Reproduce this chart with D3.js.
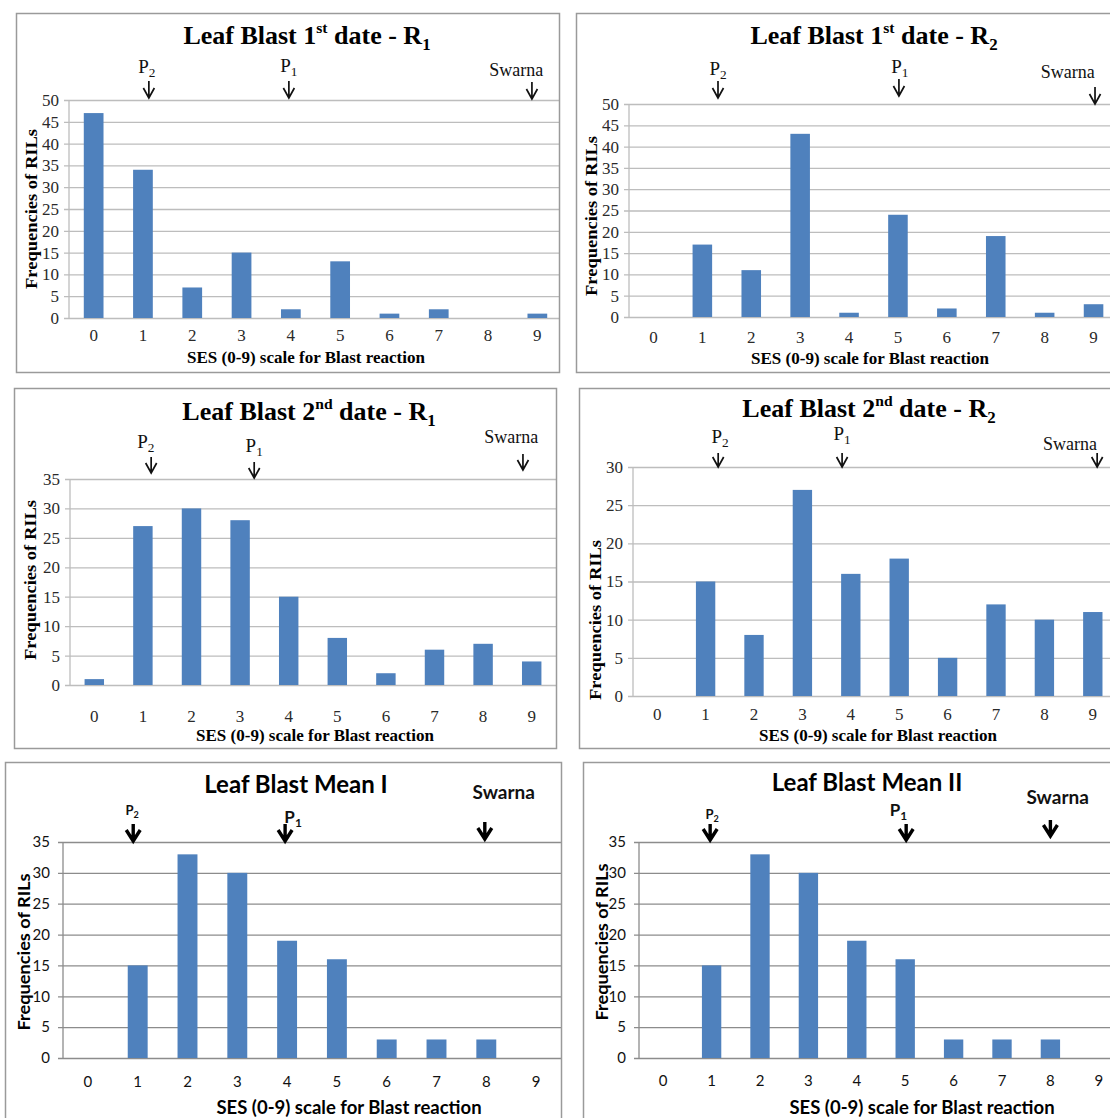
<!DOCTYPE html>
<html>
<head>
<meta charset="utf-8">
<script src="https://cdn.jsdelivr.net/npm/d3@7"></script>
<style>
  html, body { margin: 0; padding: 0; background: #fff; }
  svg { display: block; }
</style>
</head>
<body>
<svg id="chart" width="1110" height="1118"></svg>
<script>
// SES score categories shared by all six histograms
const categories = ['0', '1', '2', '3', '4', '5', '6', '7', '8', '9'];

// Frequencies of RILs per SES score
const blast1R1 = [47, 34, 7, 15, 2, 13, 1, 2, 0, 1];
const blast1R2 = [0, 17, 11, 43, 1, 24, 2, 19, 1, 3];
const blast2R1 = [1, 27, 30, 28, 15, 8, 2, 6, 7, 4];
const blast2R2 = [0, 15, 8, 27, 16, 18, 5, 12, 10, 11];
const blastMean1 = [0, 15, 33, 30, 19, 16, 3, 3, 3, 0];
const blastMean2 = [0, 15, 33, 30, 19, 16, 3, 3, 3, 0];

// y tick values
const ticks50 = [0, 5, 10, 15, 20, 25, 30, 35, 40, 45, 50];
const ticks35 = [0, 5, 10, 15, 20, 25, 30, 35];
const ticks30 = [0, 5, 10, 15, 20, 25, 30];

// parent markers: SES position of arrow and of its label
const marks1R1 = [{ name: 'P', sub: '2', at: 1.12, labelAt: 1.08 }, { name: 'P', sub: '1', at: 3.96, labelAt: 3.96 }, { name: 'Swarna', at: 8.89, labelAt: 8.57 }];
const marks1R2 = [{ name: 'P', sub: '2', at: 1.32, labelAt: 1.32 }, { name: 'P', sub: '1', at: 5.02, labelAt: 5.04 }, { name: 'Swarna', at: 9.03, labelAt: 8.47 }];
const marks2R1 = [{ name: 'P', sub: '2', at: 1.17, labelAt: 1.06 }, { name: 'P', sub: '1', at: 3.29, labelAt: 3.29 }, { name: 'Swarna', at: 8.82, labelAt: 8.58 }];
const marks2R2 = [{ name: 'P', sub: '2', at: 1.26, labelAt: 1.30 }, { name: 'P', sub: '1', at: 3.82, labelAt: 3.82 }, { name: 'Swarna', at: 9.09, labelAt: 8.53 }];
const marksMean1 = [{ name: 'P', sub: '2', at: 0.91, labelAt: 0.89 }, { name: 'P', sub: '1', at: 3.96, labelAt: 4.12 }, { name: 'Swarna', at: 7.97, labelAt: 8.35 }];
const marksMean2 = [{ name: 'P', sub: '2', at: 0.97, labelAt: 1.01 }, { name: 'P', sub: '1', at: 5.02, labelAt: 4.86 }, { name: 'Swarna', at: 8.0, labelAt: 8.15 }];

const xTitle = 'SES (0-9) scale for Blast reaction';
const yTitle = 'Frequencies of RILs';

const SERIF = "'Liberation Serif', 'Times New Roman', serif";
const SANS = "Lato, 'Open Sans', sans-serif";
const BAR = '#4f81bd';

const serifStyle = {
  font: SERIF, titleSize: 26, tickSize: 17, xTitleSize: 17, yTitleSize: 16, yTitleLen: 160,
  markSize: 19, p2Size: 19, swarnaSize: 18, markWeight: 'normal', grid: '#bdbdbd', tickColor: '#2a2a2a', arrow: 'thin'
};
const sansStyle = {
  font: SANS, titleSize: 24, tickSize: 15, xTitleSize: 18.5, yTitleSize: 17, yTitleLen: 157,
  markSize: 17, p2Size: 13, swarnaSize: 19, markWeight: 'bold', grid: '#8c8c8c', tickColor: '#111', arrow: 'bold'
};

const panels = [
  {
    values: blast1R1, ticks: ticks50, marks: marks1R1, style: serifStyle,
    title: [['Leaf Blast 1'], ['st', 'sup'], [' date - R'], ['1', 'sub']],
    frame: [16, 13, 560, 373], plot: [69, 100, 562, 318], gridRight: 560,
    titleX: 307, titleY: 44, xLabelY: 341, xTitleX: 306, xTitleY: 363, yTitleX: 31, yTitleY: 209,
    labelY: [73, 72, 76], tipY: [98, 98, 99], len: 17
  },
  {
    values: blast1R2, ticks: ticks50, marks: marks1R2, style: serifStyle,
    title: [['Leaf Blast 1'], ['st', 'sup'], [' date - R'], ['2', 'sub']],
    frame: [576, 13, 1113, 373], plot: [629, 104, 1118, 317], gridRight: 1112,
    titleX: 874, titleY: 44, xLabelY: 343, xTitleX: 870, xTitleY: 364, yTitleX: 591, yTitleY: 216,
    labelY: [75, 73, 78], tipY: [98, 96, 104], len: 17
  },
  {
    values: blast2R1, ticks: ticks35, marks: marks2R1, style: serifStyle,
    title: [['Leaf Blast 2'], ['nd', 'sup'], [' date - R'], ['1', 'sub']],
    frame: [14, 388, 557, 749], plot: [70, 479, 556, 685], gridRight: 557,
    titleX: 309, titleY: 420, xLabelY: 722, xTitleX: 315, xTitleY: 741, yTitleX: 30, yTitleY: 580,
    labelY: [448, 452, 443], tipY: [473, 478, 470], len: 16
  },
  {
    values: blast2R2, ticks: ticks30, marks: marks2R2, style: serifStyle,
    title: [['Leaf Blast 2'], ['nd', 'sup'], [' date - R'], ['2', 'sub']],
    frame: [579, 388, 1113, 749], plot: [633, 467, 1117, 696], gridRight: 1112,
    titleX: 869, titleY: 417, xLabelY: 720, xTitleX: 878, xTitleY: 741, yTitleX: 595, yTitleY: 620,
    labelY: [443, 440, 450], tipY: [467, 467, 467], len: 14
  },
  {
    values: blastMean1, ticks: ticks35, marks: marksMean1, style: sansStyle,
    title: [['Leaf Blast Mean I']],
    frame: [5, 762, 562, 1122], plot: [63, 842, 561, 1058], gridRight: 561,
    titleX: 296, titleY: 793, xLabelY: 1087, xTitleX: 349, xTitleY: 1114, yTitleX: 23, yTitleY: 952,
    labelY: [815, 823, 799], tipY: [841, 841, 839], len: 17
  },
  {
    values: blastMean2, ticks: ticks35, marks: marksMean2, style: sansStyle,
    title: [['Leaf Blast Mean II']],
    frame: [583, 762, 1113, 1122], plot: [639, 842, 1123, 1058], gridRight: 1112,
    titleX: 867, titleY: 791, xLabelY: 1086, xTitleX: 922, xTitleY: 1114, yTitleX: 601, yTitleY: 942,
    labelY: [819, 816, 804], tipY: [840, 840, 836], len: 16
  }
];

const svg = d3.select('#chart');
const defs = svg.append('defs');

panels.forEach((p, i) => drawPanel(p, i));

function drawPanel(p, idx) {
  const st = p.style;
  const [fx0, fy0, fx1, fy1] = p.frame;
  const [left, top, right, bottom] = p.plot;

  const clipId = 'clip-' + idx;
  defs.append('clipPath').attr('id', clipId)
    .append('rect').attr('x', fx0).attr('y', fy0).attr('width', fx1 - fx0).attr('height', fy1 - fy0);

  const g = svg.append('g').attr('clip-path', `url(#${clipId})`)
    .style('font-family', st.font);

  const x = d3.scaleBand().domain(categories).range([left, right])
    .paddingInner(0.6).paddingOuter(0.3);
  // continuous SES position -> pixel (category centres)
  const xPos = d3.scaleLinear().domain([0, 9])
    .range([x('0') + x.bandwidth() / 2, x('9') + x.bandwidth() / 2]);
  const yMax = d3.max(p.ticks);
  const y = d3.scaleLinear().domain([0, yMax]).range([bottom, top]);

  // gridlines + y labels
  const yAxis = d3.axisLeft(y).tickValues(p.ticks).tickSize(-(p.gridRight - left))
    .tickSizeOuter(0).tickPadding(st.arrow === 'bold' ? 13 : 10);
  const yg = g.append('g').attr('transform', `translate(${left},0)`).call(yAxis);
  yg.select('.domain').remove();
  yg.selectAll('.tick line').attr('x1', -5).attr('stroke', st.grid).attr('stroke-width', 1.3);
  yg.selectAll('.tick text').attr('fill', st.tickColor)
    .attr('font-size', st.tickSize).style('font-family', st.font);

  // vertical axis line
  g.append('line').attr('x1', left).attr('x2', left).attr('y1', top).attr('y2', bottom)
    .attr('stroke', st.grid).attr('stroke-width', 1.3);

  // bars
  g.append('g').selectAll('rect').data(p.values).join('rect')
    .attr('x', (d, i) => x(categories[i]))
    .attr('width', x.bandwidth())
    .attr('y', d => y(d))
    .attr('height', d => y(0) - y(d))
    .attr('fill', BAR);

  // x labels
  const xAxis = d3.axisBottom(x).tickSize(0).tickPadding(0);
  const xg = g.append('g').attr('transform', `translate(0,${bottom})`).call(xAxis);
  xg.select('.domain').remove();
  xg.selectAll('.tick text').attr('y', p.xLabelY - bottom).attr('dy', null)
    .attr('fill', st.tickColor)
    .attr('font-size', st.tickSize).style('font-family', st.font);

  // title
  const t = g.append('text').attr('x', p.titleX).attr('y', p.titleY)
    .attr('text-anchor', 'middle').attr('font-weight', 'bold')
    .attr('font-size', st.titleSize).attr('fill', '#000');
  p.title.forEach(([txt, kind]) => {
    const ts = t.append('tspan').text(txt);
    if (kind === 'sup') ts.attr('font-size', st.titleSize * 0.6).attr('baseline-shift', '70%');
    if (kind === 'sub') ts.attr('font-size', st.titleSize * 0.65).attr('baseline-shift', '-35%');
  });

  // axis titles
  g.append('text').attr('x', p.xTitleX).attr('y', p.xTitleY)
    .attr('text-anchor', 'middle').attr('font-weight', 'bold')
    .attr('font-size', st.xTitleSize).attr('fill', '#000').text(xTitle);

  g.append('text')
    .attr('transform', `translate(${p.yTitleX},${p.yTitleY}) rotate(-90)`)
    .attr('text-anchor', 'middle').attr('dominant-baseline', 'central')
    .attr('font-weight', 'bold').attr('font-size', st.yTitleSize).attr('fill', '#000')
    .attr('textLength', st.yTitleLen).attr('lengthAdjust', 'spacingAndGlyphs')
    .text(yTitle);

  // parent markers
  p.marks.forEach((m, k) => {
    const lx = xPos(m.labelAt);
    const size = !m.sub ? st.swarnaSize : (m.sub === '2' ? st.p2Size : st.markSize);
    const lt = g.append('text').attr('x', lx).attr('y', p.labelY[k])
      .attr('text-anchor', 'middle').attr('font-size', size)
      .attr('font-weight', st.markWeight).attr('fill', '#111');
    lt.append('tspan').text(m.name);
    if (m.sub) lt.append('tspan').text(m.sub).attr('font-size', size * 0.7).attr('baseline-shift', '-30%');

    const ax = xPos(m.at);
    const tip = p.tipY[k];
    if (st.arrow === 'thin') {
      g.append('path')
        .attr('d', `M${ax},${tip - p.len}L${ax},${tip}M${ax - 5.5},${tip - 10}L${ax},${tip}L${ax + 5.5},${tip - 10}`)
        .attr('fill', 'none').attr('stroke', '#111').attr('stroke-width', 1.7);
    } else {
      g.append('path')
        .attr('d', `M${ax},${tip - p.len}L${ax},${tip}M${ax - 7},${tip - 11}L${ax},${tip}L${ax + 7},${tip - 11}`)
        .attr('fill', 'none').attr('stroke', '#000').attr('stroke-width', 3.4)
        .attr('stroke-linejoin', 'miter');
    }
  });

  // frame
  svg.append('rect').attr('x', fx0 + 0.5).attr('y', fy0 + 0.5)
    .attr('width', fx1 - fx0 - 1).attr('height', fy1 - fy0 - 1)
    .attr('fill', 'none').attr('stroke', '#9a9a9a').attr('stroke-width', 1.5);
}
</script>
</body>
</html>
